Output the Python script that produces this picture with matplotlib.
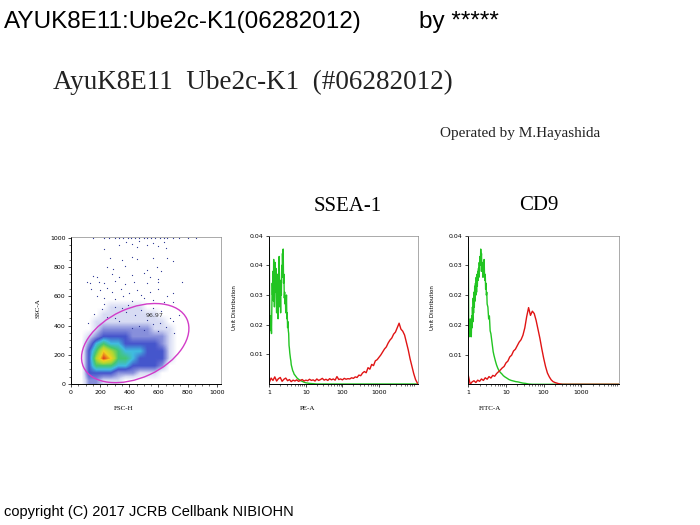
import matplotlib
matplotlib.use('Agg')
import matplotlib.pyplot as plt
import numpy as np
from matplotlib.patches import Ellipse
from matplotlib.colors import LinearSegmentedColormap
from matplotlib.ticker import FixedLocator, FixedFormatter, MultipleLocator, LogLocator, NullFormatter

# ---- scatter (FSC-H vs SSC-A): density levels in 50-unit bins ----
# columns: FSC 50..800, rows: SSC 0..600 (bottom row first)
density = [
    [0, 2, 2, 1, 1, 1, 0, 0, 0, 0, 0, 0, 0, 0, 0],
    [0, 3, 3, 3, 3, 2, 2, 2, 1, 1, 1, 0, 0, 0, 0],
    [0, 3, 5, 5, 5, 4, 4, 3, 3, 3, 3, 2, 0, 0, 0],
    [0, 3, 6, 8, 7, 5, 5, 4, 3, 3, 3, 3, 1, 0, 0],
    [0, 3, 5, 7, 6, 5, 4, 4, 4, 3, 3, 3, 1, 0, 0],
    [0, 2, 4, 5, 4, 4, 3, 3, 3, 3, 3, 2, 1, 0, 0],
    [0, 1, 2, 3, 3, 3, 3, 2, 2, 2, 2, 2, 1, 0, 0],
    [0, 0, 1, 2, 2, 2, 2, 2, 2, 2, 1, 1, 1, 0, 0],
    [0, 0, 1, 1, 1, 1, 1, 1, 1, 1, 1, 1, 0, 0, 0],
    [0, 0, 0, 1, 1, 1, 1, 1, 1, 1, 1, 0, 0, 0, 0],
    [0, 0, 0, 0, 1, 1, 1, 1, 1, 0, 0, 0, 0, 0, 0],
    [0, 0, 0, 0, 0, 0, 0, 0, 0, 0, 0, 0, 0, 0, 0],
]
density_extent = [50, 800, 0, 600]

# sparse events outside the dense cloud
fsc_sparse = [150, 230, 260, 300, 330, 360, 390, 410, 440, 470, 500, 520, 550, 580, 610, 640, 660, 700, 740, 800, 860,
              380, 420, 470, 520, 560, 600, 640, 650, 450, 330, 226,
              268, 348, 416, 451, 565, 657, 700, 250, 290, 370, 520, 590, 620,
              150, 180, 280, 330, 420, 500, 540, 600,
              110, 130, 190, 230, 300, 370, 430, 520, 600, 760,
              140, 200, 250, 280, 340, 400, 450, 480, 540, 600, 660, 700,
              180, 230, 300, 360, 420, 500, 560, 230, 300, 390, 640, 700, 740,
              160, 210, 480, 620, 700, 350, 560, 250, 680, 120,
              440, 520, 610, 380, 300, 650, 560, 470, 330, 200, 710, 600, 420, 500]
ssc_sparse = [998, 998, 998, 998, 998, 998, 998, 998, 998, 998, 998, 998, 998, 998, 998, 998, 998, 998, 998, 998, 998,
              975, 960, 980, 950, 965, 945, 970, 930, 940, 950, 922,
              860, 850, 870, 855, 860, 865, 840, 800, 790, 810, 780, 800, 770,
              740, 735, 750, 730, 745, 760, 735, 720,
              700, 690, 700, 690, 705, 685, 700, 690, 700, 700,
              650, 640, 660, 630, 650, 620, 640, 610, 630, 650, 600, 620,
              600, 590, 580, 600, 570, 590, 575, 550, 530, 540, 560, 560, 470,
              480, 510, 505, 500, 430, 520, 520, 460, 450, 420,
              470, 440, 420, 490, 450, 390, 410, 400, 430, 410, 350, 360, 380, 370]

gate_label = "96.97"

# ---- histograms: log10 channel position and unit distribution ----
pe_green_log = [0.00, 0.01, 0.02, 0.03, 0.04, 0.05, 0.06, 0.07, 0.08, 0.09, 0.10, 0.11, 0.12, 0.13, 0.14,
                0.15, 0.16, 0.17, 0.18, 0.19, 0.20, 0.21, 0.22, 0.23, 0.24, 0.25, 0.26, 0.27, 0.28, 0.29,
                0.30, 0.31, 0.32, 0.33, 0.34, 0.35, 0.36, 0.37, 0.38, 0.39, 0.40, 0.41, 0.42, 0.43, 0.44,
                0.45, 0.46, 0.47, 0.48, 0.49, 0.50, 0.51, 0.52, 0.53, 0.54, 0.55, 0.56, 0.57, 0.58, 0.59,
                0.60, 0.62, 0.64, 0.66, 0.68, 0.70, 0.73, 0.76, 0.80, 0.85, 0.90, 0.95, 1.00, 1.05, 1.10,
                1.20, 1.30, 4.10]
pe_green = [0.046, 0.025, 0.019, 0.023, 0.018, 0.021, 0.017, 0.026, 0.034, 0.030, 0.038, 0.028, 0.042, 0.035, 0.026,
            0.036, 0.041, 0.031, 0.039, 0.029, 0.024, 0.033, 0.037, 0.027, 0.022, 0.030, 0.038, 0.043, 0.033, 0.026,
            0.031, 0.024, 0.035, 0.030, 0.040, 0.036, 0.044, 0.039, 0.0455, 0.034, 0.037, 0.029, 0.031, 0.027, 0.029,
            0.024, 0.026, 0.030, 0.022, 0.024, 0.019, 0.021, 0.018, 0.017, 0.013, 0.012, 0.0105, 0.0095, 0.0085, 0.0078,
            0.0065, 0.0055, 0.0045, 0.0040, 0.0033, 0.0030, 0.0025, 0.0020, 0.0016, 0.0012, 0.0009, 0.0006, 0.0004, 0.0003, 0.0002,
            0.0001, 0.0, 0.0]

pe_red_log = [0.00, 0.05, 0.10, 0.15, 0.20, 0.25, 0.30, 0.35, 0.40, 0.45, 0.50, 0.55, 0.60, 0.65, 0.70, 0.75,
              0.80, 0.85, 0.90, 0.95, 1.00, 1.05, 1.10, 1.15, 1.20, 1.25, 1.30, 1.35, 1.40, 1.45, 1.50, 1.55,
              1.60, 1.65, 1.70, 1.75, 1.80, 1.85, 1.90, 1.95, 2.00, 2.05, 2.10, 2.15, 2.20, 2.25, 2.30, 2.35,
              2.40, 2.45, 2.50, 2.55, 2.60, 2.65, 2.70, 2.75, 2.80, 2.85, 2.90, 2.95, 3.00, 3.05, 3.10, 3.15,
              3.20, 3.25, 3.30, 3.35, 3.40, 3.45, 3.50, 3.55, 3.60, 3.65, 3.70, 3.75, 3.80, 3.85, 3.90, 3.95,
              4.00, 4.05]
pe_red = [0.0005, 0.0020, 0.0012, 0.0024, 0.0010, 0.0018, 0.0022, 0.0009, 0.0016, 0.0020, 0.0011, 0.0015, 0.0008, 0.0013, 0.0010, 0.0014,
          0.0009, 0.0012, 0.0015, 0.0010, 0.0013, 0.0011, 0.0016, 0.0012, 0.0014, 0.0010, 0.0017, 0.0012, 0.0015, 0.0019, 0.0013, 0.0016,
          0.0012, 0.0018, 0.0014, 0.0017, 0.0013, 0.0025, 0.0015, 0.0017, 0.0014, 0.0019, 0.0016, 0.0018, 0.0017, 0.0021, 0.0019, 0.0024,
          0.0022, 0.0030, 0.0028, 0.0037, 0.0042, 0.0038, 0.0055, 0.0050, 0.0066, 0.0062, 0.0078, 0.0082, 0.0090, 0.0098, 0.0108, 0.0118,
          0.0125, 0.0138, 0.0148, 0.0155, 0.0168, 0.0175, 0.0190, 0.0205, 0.0185, 0.0178, 0.0165, 0.0140, 0.0115, 0.0085, 0.0060, 0.0035,
          0.0015, 0.0003]

cd9_green_log = [0.00, 0.01, 0.02, 0.03, 0.04, 0.05, 0.06, 0.07, 0.08, 0.09, 0.10, 0.11, 0.12, 0.13, 0.14,
                 0.15, 0.16, 0.17, 0.18, 0.19, 0.20, 0.21, 0.22, 0.23, 0.24, 0.25, 0.26, 0.27, 0.28, 0.29,
                 0.30, 0.31, 0.32, 0.33, 0.34, 0.35, 0.36, 0.37, 0.38, 0.39, 0.40, 0.41, 0.42, 0.43, 0.44,
                 0.45, 0.46, 0.47, 0.48, 0.49, 0.50, 0.52, 0.54, 0.56, 0.58, 0.60, 0.62, 0.64, 0.66, 0.68,
                 0.70, 0.72, 0.75, 0.78, 0.81, 0.85, 0.89, 0.93, 0.97, 1.02, 1.08, 1.14, 1.20, 1.26, 1.32,
                 1.38, 1.45, 1.52, 1.60, 1.70, 4.00]
cd9_green = [0.046, 0.020, 0.017, 0.019, 0.016, 0.022, 0.018, 0.020, 0.016, 0.023, 0.019, 0.026, 0.021, 0.029, 0.024,
             0.031, 0.026, 0.033, 0.028, 0.034, 0.030, 0.036, 0.031, 0.037, 0.033, 0.038, 0.035, 0.039, 0.036, 0.041,
             0.038, 0.043, 0.040, 0.0455, 0.042, 0.044, 0.038, 0.041, 0.040, 0.036, 0.041, 0.038, 0.042, 0.037, 0.035,
             0.037, 0.032, 0.034, 0.030, 0.031, 0.027, 0.026, 0.022, 0.023, 0.018, 0.017, 0.015, 0.013, 0.011, 0.0098,
             0.0088, 0.0078, 0.0065, 0.0055, 0.0047, 0.0040, 0.0035, 0.0029, 0.0025, 0.0021, 0.0016, 0.0013, 0.0011, 0.0009, 0.0008,
             0.0006, 0.0004, 0.0003, 0.0001, 0.0, 0.0]

cd9_red_log = [0.00, 0.05, 0.10, 0.15, 0.20, 0.25, 0.30, 0.35, 0.40, 0.45, 0.50, 0.55, 0.60, 0.65, 0.70, 0.75,
               0.80, 0.85, 0.90, 0.95, 1.00, 1.05, 1.10, 1.15, 1.20, 1.25, 1.30, 1.35, 1.40, 1.45, 1.50, 1.55,
               1.60, 1.65, 1.70, 1.75, 1.80, 1.85, 1.90, 1.95, 2.00, 2.05, 2.10, 2.15, 2.20, 2.25, 2.30, 2.40,
               2.50, 4.00]
cd9_red = [0.0030, 0.0000, 0.0008, 0.0012, 0.0006, 0.0014, 0.0010, 0.0018, 0.0013, 0.0022, 0.0017, 0.0026, 0.0021, 0.0030, 0.0027, 0.0036,
           0.0042, 0.0048, 0.0055, 0.0060, 0.0072, 0.0078, 0.0092, 0.0098, 0.0112, 0.0118, 0.0130, 0.0142, 0.0150, 0.0165, 0.0190, 0.0228,
           0.0258, 0.0232, 0.0246, 0.0238, 0.0215, 0.0185, 0.0155, 0.0120, 0.0088, 0.0060, 0.0038, 0.0025, 0.0015, 0.0009, 0.0006, 0.0002,
           0.0, 0.0]

hist_yticks = [0.01, 0.02, 0.03, 0.04, 0.05]
pe_ytick_labels = ['0.01', '0.02', '0.03', '0.04', '0.04']
cd9_ytick_labels = ['0.01', '0.02', '0.02', '0.03', '0.04']
log_ticks = [1, 10, 100, 1000]
log_tick_labels = ['1', '10', '100', '1000']

W, H = 700, 525
fig = plt.figure(figsize=(7, 5.25), dpi=100)


def rect(l, t, r, b):
    return [l / W, 1 - b / H, (r - l) / W, (b - t) / H]


def style_axes(ax):
    for s in ['left', 'bottom']:
        ax.spines[s].set_linewidth(0.7)
        ax.spines[s].set_color('black')
    for s in ['top', 'right']:
        ax.spines[s].set_linewidth(0.5)
        ax.spines[s].set_color('#888888')
    ax.tick_params(which='major', direction='out', length=2.5, width=0.5, labelsize=4.5, pad=1.5)
    ax.tick_params(which='minor', direction='out', length=1.5, width=0.4)
    ax.tick_params(top=False, right=False, which='both')


# scatter panel
ax1 = fig.add_axes(rect(71, 236.7, 221, 384))
cmap = LinearSegmentedColormap.from_list('dens', ['#ffffff', '#d8dcf4', '#8890dc', '#4655cc', '#40bce0',
                                                  '#44c672', '#b0d832', '#f2d020', '#e03a1c'])
ax1.imshow(np.array(density), origin='lower', extent=density_extent, cmap=cmap, vmin=0, vmax=8,
           aspect='auto', interpolation='bilinear', zorder=1)
ax1.scatter(fsc_sparse, ssc_sparse, s=0.8, color='#2a3494', linewidths=0, zorder=2)
ax1.add_patch(Ellipse((441, 280), 782, 475, angle=24.8, fill=False, edgecolor='#d23cc8', linewidth=1.0, zorder=3))
ax1.text(576, 468, gate_label, fontsize=4.5, ha='center', va='center', color='#333333', zorder=4)
ax1.set_xlim(0, 1030)
ax1.set_ylim(0, 1008)
ax1.xaxis.set_major_locator(FixedLocator([0, 200, 400, 600, 800, 1000]))
ax1.yaxis.set_major_locator(FixedLocator([0, 200, 400, 600, 800, 1000]))
ax1.xaxis.set_minor_locator(MultipleLocator(50))
ax1.yaxis.set_minor_locator(MultipleLocator(50))
style_axes(ax1)
fig.text(124 / W, 1 - 409 / H, 'FSC-H', fontsize=5, family='Liberation Serif', ha='center', va='center')
fig.text(38 / W, 1 - 308 / H, 'SSC-A', fontsize=5, family='Liberation Serif', ha='center', va='center', rotation=90)


def hist_panel(box, green_log, green, red_log, red, xmax_log, ylabels, xlabel, xlabel_x, ylabel_x):
    ax = fig.add_axes(rect(*box))
    ax.plot(10 ** np.array(green_log), green, color='#22c422', linewidth=1.0)
    ax.plot(10 ** np.array(red_log), red, color='#e01414', linewidth=1.0)
    ax.set_xscale('log')
    ax.set_xlim(1, 10 ** xmax_log)
    ax.set_ylim(0, 0.05)
    ax.xaxis.set_major_locator(FixedLocator(log_ticks))
    ax.xaxis.set_major_formatter(FixedFormatter(log_tick_labels))
    ax.xaxis.set_minor_locator(LogLocator(base=10, subs=[2, 3, 4, 5, 6, 7, 8, 9]))
    ax.xaxis.set_minor_formatter(NullFormatter())
    ax.yaxis.set_major_locator(FixedLocator(hist_yticks))
    ax.yaxis.set_major_formatter(FixedFormatter(ylabels))
    style_axes(ax)
    fig.text(xlabel_x / W, 1 - 409 / H, xlabel, fontsize=5, family='Liberation Serif', ha='center', va='center')
    fig.text(ylabel_x / W, 1 - 308 / H, 'Unit Distribution', fontsize=4, ha='center', va='center', rotation=90)
    return ax


hist_panel((269.3, 235.7, 418.3, 384), pe_green_log, pe_green, pe_red_log, pe_red, 4.075,
           pe_ytick_labels, 'PE-A', 308, 235)
hist_panel((468.3, 235.7, 619, 384.3), cd9_green_log, cd9_green, cd9_red_log, cd9_red, 4.0,
           cd9_ytick_labels, 'FITC-A', 490, 433)

# titles and captions
fig.text(4 / W, 1 - 28 / H, 'AYUK8E11:Ube2c-K1(06282012)', fontsize=17.5, family='Liberation Sans', va='baseline')
fig.text(419 / W, 1 - 28 / H, 'by *****', fontsize=17.5, family='Liberation Sans', va='baseline')
fig.text(53 / W, 1 - 89 / H, 'AyuK8E11  Ube2c-K1  (#06282012)', fontsize=19.5, family='Liberation Serif',
         va='baseline', color='#222222')
fig.text(440 / W, 1 - 137 / H, 'Operated by M.Hayashida', fontsize=11, family='Liberation Serif',
         va='baseline', color='#222222')
fig.text(348 / W, 1 - 211 / H, 'SSEA-1', fontsize=15, family='Liberation Serif', ha='center', va='baseline')
fig.text(539 / W, 1 - 210 / H, 'CD9', fontsize=15, family='Liberation Serif', ha='center', va='baseline')
fig.text(4 / W, 1 - 516 / H, 'copyright (C) 2017 JCRB Cellbank NIBIOHN', fontsize=10.5,
         family='Liberation Sans', va='baseline')

fig.savefig('out.png', dpi=100)
